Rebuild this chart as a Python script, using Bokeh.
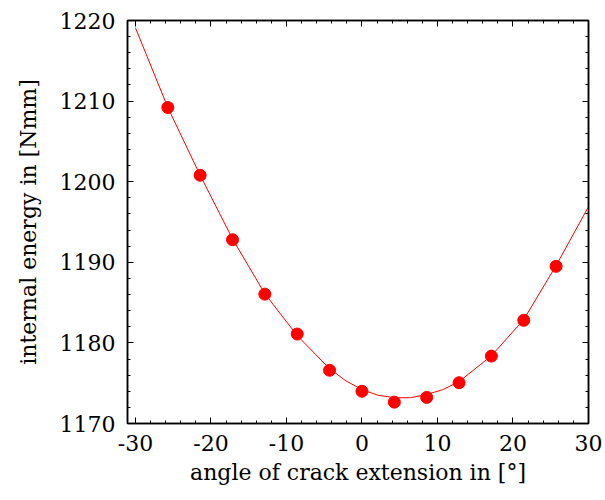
from bokeh.plotting import figure
from bokeh.models import FixedTicker, LinearAxis, Range1d
from bokeh.embed import file_html
from bokeh.resources import INLINE

# measured data points
angle = [-25.71, -21.43, -17.14, -12.86, -8.57, -4.29, 0.0, 4.29, 8.57, 12.86, 17.14, 21.43, 25.71]
energy = [1209.2, 1200.8, 1192.8, 1186.05, 1181.1, 1176.6, 1174.0, 1172.65, 1173.24, 1175.06, 1178.36, 1182.8, 1189.5]

# fitted curve
curve_angle = [-30.0, -25.71, -21.43, -17.14, -12.86, -8.57, -4.29, -2.14, 0.0, 2.14, 4.29, 6.43, 8.57, 10.71, 12.86, 17.14, 21.43, 25.71, 30.0]
curve_energy = [1219.1, 1209.2, 1200.8, 1192.9, 1186.1, 1180.9, 1176.8, 1175.3, 1174.2, 1173.5, 1173.2, 1173.2, 1173.6, 1174.2, 1175.2, 1178.4, 1182.9, 1189.6, 1196.9]

x_ticks = [-30, -20, -10, 0, 10, 20, 30]
y_ticks = [1170, 1180, 1190, 1200, 1210, 1220]
x_minor = [v for v in range(-30, 31, 2)]
y_minor = [v for v in range(1170, 1221, 2)]

FONT = "DejaVu Serif"
FS = "22px"

p = figure(width=605, height=500, output_backend="svg", toolbar_location=None,
           x_range=Range1d(-31.05, 30), y_range=Range1d(1170, 1220),
           min_border_left=127, min_border_right=17, min_border_top=20, min_border_bottom=77)
p.grid.visible = False
p.outline_line_color = "black"
p.outline_line_width = 1.5
p.background_fill_color = "white"
p.border_fill_color = "white"

p.line(curve_angle, curve_energy, line_color="#ff0000", line_width=1)
p.scatter(angle, energy, size=12, fill_color="#ff0000", line_color="#ff0000")

def style(ax):
    ax.axis_line_color = "black"
    ax.axis_line_width = 1.5
    ax.major_tick_in = 6
    ax.major_tick_out = 0
    ax.minor_tick_in = 3
    ax.minor_tick_out = 0
    ax.major_tick_line_color = "black"
    ax.minor_tick_line_color = "black"
    ax.major_label_text_font = FONT
    ax.major_label_text_font_size = FS
    ax.major_label_text_color = "black"
    ax.axis_label_text_font = FONT
    ax.axis_label_text_font_size = FS
    ax.axis_label_text_font_style = "normal"
    ax.axis_label_text_color = "black"

xa = p.xaxis[0]
xa.ticker = FixedTicker(ticks=x_ticks, minor_ticks=x_minor)
xa.major_label_overrides = {t: str(t) for t in x_ticks}
xa.axis_label = "angle of crack extension in [°]"
style(xa)
xa.major_label_standoff = 11
xa.axis_label_standoff = 6

ya = p.yaxis[0]
ya.ticker = FixedTicker(ticks=y_ticks, minor_ticks=y_minor)
ya.major_label_overrides = {t: str(t) for t in y_ticks}
ya.axis_label = "internal energy in [Nmm]"
style(ya)
ya.major_label_standoff = 12
ya.axis_label_standoff = 16

top = LinearAxis(ticker=FixedTicker(ticks=x_ticks, minor_ticks=x_minor))
style(top)
top.major_label_overrides = {t: "" for t in x_ticks}
top.major_label_standoff = 0
p.add_layout(top, "above")
right = LinearAxis(ticker=FixedTicker(ticks=y_ticks, minor_ticks=y_minor))
style(right)
right.major_label_overrides = {t: "" for t in y_ticks}
right.major_label_standoff = 0
p.add_layout(right, "right")

open("out.html", "w").write(file_html(p, INLINE))
